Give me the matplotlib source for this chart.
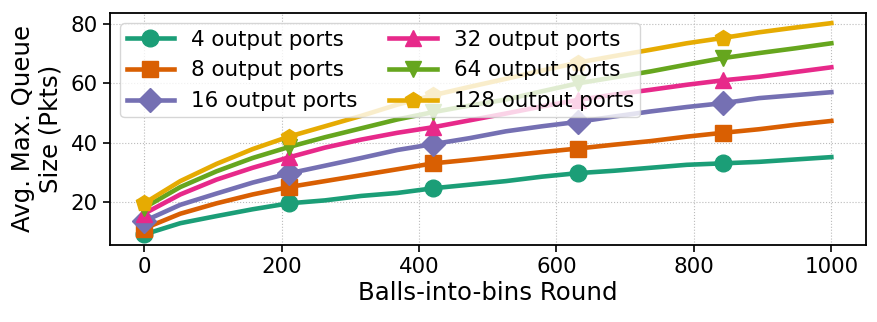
import numpy as np
import matplotlib
matplotlib.use('Agg')
import matplotlib.pyplot as plt

# Balls-into-bins rounds (20 samples, marker every 4th)
rounds = np.linspace(0, 1000, 20)

# Avg. max queue size per port count
q4 = [9, 12.8, 15.2, 17.5, 19.5, 20.5, 22, 23, 24.6, 25.8,
      27, 28.5, 29.7, 30.5, 31.5, 32.5, 33, 33.5, 34.3, 35.1]
q8 = [11, 16, 19.5, 22.5, 25, 27, 29, 31, 33, 34.2,
      35.5, 36.8, 38, 39.3, 40.5, 42, 43.3, 44.5, 46, 47.3]
q16 = [13.5, 19, 22.8, 26.5, 29.6, 32.2, 34.8, 37.5, 39.5, 41.5,
       43.8, 45.5, 47, 48.8, 50.5, 52, 53.3, 55, 56, 57]
q32 = [16, 22.5, 27.5, 31.5, 35, 38.3, 41, 43.3, 45.2, 47.5,
       49.8, 52.2, 54.4, 56.2, 57.8, 59.5, 61, 62.2, 63.8, 65.4]
q64 = [18, 25, 30.3, 34.8, 38.5, 41.8, 44.8, 47.8, 50.3, 52.5,
       54.5, 57.3, 60, 62, 64, 66.3, 68.5, 70.2, 71.8, 73.5]
q128 = [19.5, 27, 32.8, 37.8, 42, 45.5, 49, 52.8, 56, 58.8,
        61.5, 64.3, 67, 69.2, 71.3, 73.5, 75.3, 77.2, 78.8, 80.3]

labels = ['4 output ports', '8 output ports', '16 output ports',
          '32 output ports', '64 output ports', '128 output ports']
series = [q4, q8, q16, q32, q64, q128]
colors = ['#1b9e77', '#d95f02', '#7570b3', '#e7298a', '#66a61e', '#e6ab02']
markers = ['o', 's', 'D', '^', 'v', 'p']

fig = plt.figure(figsize=(8.78, 3.22), dpi=100)
ax = fig.add_axes([0.125, 0.239, 0.861, 0.722])

for vals, lab, c, m in zip(series, labels, colors, markers):
    ax.plot(rounds, vals, color=c, marker=m, markevery=4, lw=3.3,
            markersize=12, label=lab)

ax.set_xticks([0, 200, 400, 600, 800, 1000])
ax.set_yticks([20, 40, 60, 80])
ax.tick_params(labelsize=15.4, width=1.2, length=5)
for s in ax.spines.values():
    s.set_linewidth(1.3)
ax.grid(True, linestyle=':', color='#bbbbbb')
ax.set_xlabel('Balls-into-bins Round', fontsize=17.6, labelpad=3)
ax.set_ylabel('Avg. Max. Queue\nSize (Pkts)', fontsize=17.6, labelpad=6)
ax.legend(ncol=2, loc='upper left', fontsize=15.4, handlelength=2.2,
          labelspacing=0.5, columnspacing=1.5, borderpad=0.3)

fig.savefig('out.png', dpi=100)
